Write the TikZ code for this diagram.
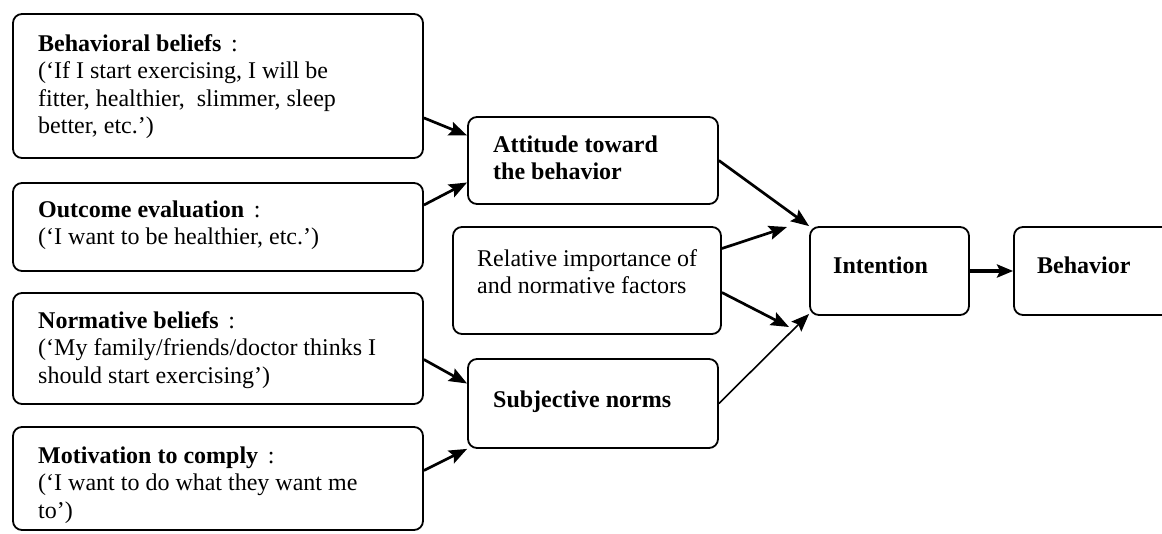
\documentclass[tikz,border=0pt]{standalone}
\usepackage{fontspec}
\setmainfont{Liberation Serif}
\usetikzlibrary{arrows.meta}
\newcommand\mlines[1]{\begin{tabular}[t]{@{}l@{}}#1\end{tabular}}
\newcommand\qcolon{\hspace{0.4em}:}
\begin{document}
\begin{tikzpicture}[x=1pt,y=-1pt,
  box/.style={draw, line width=1.8pt, rounded corners=9pt, inner sep=0pt},
  txt/.style={anchor=base west, inner sep=0pt, font=\fontsize{24}{27.6}\selectfont},
  arr/.style={line width=2.7pt, -{Stealth[length=18pt,width=14pt,inset=3pt]}},
  thinarr/.style={line width=1.6pt, -{Stealth[length=18pt,width=14pt,inset=3pt]}},
  heavyarr/.style={line width=3.6pt, -{Stealth[length=16pt,width=13pt,inset=3pt]}},
]
\clip (0,0) rectangle (1162,533);
% boxes
\node[box, minimum width=410pt, minimum height=144pt] (bb) at (218,86) {};
\node[box, minimum width=410pt, minimum height=88pt] (oe) at (218,227) {};
\node[box, minimum width=410pt, minimum height=111pt] (nb) at (218,348.5) {};
\node[box, minimum width=410pt, minimum height=103pt] (mc) at (218,478.5) {};
\node[box, minimum width=250pt, minimum height=87pt] (att) at (593,160.5) {};
\node[box, minimum width=268pt, minimum height=107pt] (rel) at (587,280.5) {};
\node[box, minimum width=250pt, minimum height=89pt] (subj) at (593,403.5) {};
\node[box, minimum width=159pt, minimum height=88pt] (int) at (889.5,271) {};
\node[box, minimum width=176pt, minimum height=88pt] (beh) at (1102,271) {};
% texts
\node[txt] (tbb) at (38,51) {\mlines{\textbf{Behavioral beliefs}\qcolon\\(‘If I start exercising, I will be\\fitter, healthier,\ \ slimmer, sleep\\better, etc.’)}};
\node[txt] (toe) at (38,217) {\mlines{\textbf{Outcome evaluation}\qcolon\\(‘I want to be healthier, etc.’)}};
\node[txt] (tnb) at (38,328) {\mlines{\textbf{Normative beliefs}\qcolon\\(‘My family/friends/doctor thinks I\\should start exercising’)}};
\node[txt] (tmc) at (38,463) {\mlines{\textbf{Motivation to comply}\qcolon\\(‘I want to do what they want me\\to’)}};
\node[txt] (tatt) at (493,152) {\mlines{\textbf{Attitude toward}\\\textbf{the behavior}}};
\node[txt] (trel) at (477,266) {\mlines{Relative importance of\\and normative factors}};
\node[txt] (tsubj) at (493,407) {\textbf{Subjective norms}};
\node[txt] (tint) at (833,273) {\textbf{Intention}};
\node[txt] (tbeh) at (1037,273) {\textbf{Behavior}};
% free ends
\coordinate (e1) at (787,227);
\coordinate (e2) at (789,327);
% connectors
\draw[arr] ([yshift=41pt]bb.south east) -- ([yshift=25pt]att.west);
\draw[arr] ([yshift=22pt]oe.east) -- ([yshift=-22pt]att.west);
\draw[arr] (att.east) -- (int.north west);
\draw[arr] ([yshift=32pt]rel.east) -- (e1);
\draw[arr] ([yshift=-12pt]rel.east) -- (e2);
\draw[thinarr] (subj.east) -- ([yshift=2pt]int.south west);
\draw[arr] ([yshift=-11pt]nb.east) -- ([yshift=20pt]subj.west);
\draw[arr] ([yshift=8pt]mc.east) -- (subj.south west);
\draw[heavyarr] (int.east) -- (beh.west);
\end{tikzpicture}
\end{document}
